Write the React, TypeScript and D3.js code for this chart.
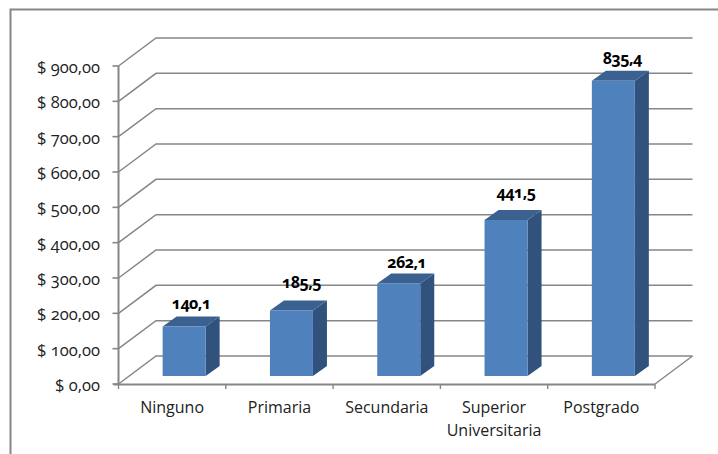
import * as React from "react";
import * as d3 from "d3";

const categories = ["Ninguno", "Primaria", "Secundaria", "Superior Universitaria", "Postgrado"];
const values = [140.1, 185.5, 262.1, 441.5, 835.4];
const valueLabels = ["140,1", "185,5", "262,1", "441,5", "835,4"];
const yTicks = [0, 100, 200, 300, 400, 500, 600, 700, 800, 900];

const width = 718;
const height = 454;
const axisFont = '"Open Sans", "Lato", sans-serif';

// front plane of the 3D box and how far the back wall is shifted
const x0 = 118.5;
const x1 = 655;
const y0 = 384;
const y900 = 66;
const depthX = 37.5;
const depthY = -28;
// bars sit inside the depth of the box
const barShiftX = 12;
const barShiftY = -8;
const barDepthX = 14;
const barDepthY = -10;

// the data labels were placed by hand in the original
const labelNudgeX = [-1, 2, 0, 2, 1];
const labelNudgeY = [-2, -7, 0, -7, -2];

const gridColor = "#868686";

export default function App() {
  const x = d3.scaleBand<string>().domain(categories).range([x0, x1]).paddingInner(0).paddingOuter(0);
  const y = d3.scaleLinear().domain([0, 900]).range([y0, y900]);
  const barWidth = 43;
  const barOffset = (x.bandwidth() - barWidth) / 2;

  const gridLine = d3.line();

  return (
    <svg
      width={width}
      height={height}
      style={{ position: "absolute", left: 0, top: 0, background: "#fff" }}
    >
      {/* chart frame, cut off at the right and bottom of the picture */}
      <path d={`M10.5,${height} V9.5 H${width}`} fill="none" stroke="#868686" strokeWidth={2} />

      {/* back wall and left wall grid */}
      {yTicks.map((t) => (
        <path
          key={t}
          d={
            gridLine([
              [x0, y(t)],
              [x0 + depthX, y(t) + depthY],
              [x1 + depthX, y(t) + depthY],
            ]) ?? ""
          }
          fill="none"
          stroke={gridColor}
          strokeWidth={1.5}
        />
      ))}
      {/* floor */}
      <path
        d={gridLine([[x1, y0], [x1 + depthX, y0 + depthY]]) ?? ""}
        fill="none"
        stroke={gridColor}
        strokeWidth={1.4}
      />

      {/* axes */}
      <path d={`M${x0},${y(900)} V${y0}`} stroke={gridColor} strokeWidth={2} fill="none" />
      <path d={`M${x0 - 5},${y0 + 0.5} H${x1}`} stroke={gridColor} strokeWidth={2} fill="none" />
      {yTicks.map((t) => (
        <line key={t} x1={x0 - 6} x2={x0} y1={y(t)} y2={y(t)} stroke={gridColor} strokeWidth={1.6} />
      ))}
      {[...categories.map((c) => x(c) as number), x1].map((px) => (
        <line key={px} x1={px} x2={px} y1={y0} y2={y0 + 5} stroke={gridColor} strokeWidth={1.4} />
      ))}

      {/* y labels */}
      {yTicks.map((t) => (
        <text
          key={t}
          x={100}
          y={y(t) + 7}
          textAnchor="end"
          fontFamily={axisFont}
          fontSize={16.5}
          fill="#222"
          style={{ fontFeatureSettings: '"onum"' }}
        >
          {"$ " + d3.format(".2f")(t).replace(".", ",")}
        </text>
      ))}

      {/* bars */}
      {categories.map((c, i) => {
        const bx = (x(c) as number) + barOffset + barShiftX;
        const by = y(values[i]) + barShiftY;
        const base = y(0) + barShiftY;
        return (
          <g key={c}>
            <path
              d={`M${bx + barWidth},${by} l${barDepthX},${barDepthY} V${base + barDepthY} l${-barDepthX},${-barDepthY} Z`}
              fill="#31527c"
            />
            <path
              d={`M${bx},${by} l${barDepthX},${barDepthY} h${barWidth} l${-barDepthX},${-barDepthY} Z`}
              fill="#3a6190"
            />
            <rect x={bx} y={by} width={barWidth} height={base - by} fill="#4f81bd" />
            <text
              x={bx + barWidth / 2 + 8 + labelNudgeX[i]}
              y={by - 15 + labelNudgeY[i]}
              textAnchor="middle"
              fontFamily={axisFont}
              fontSize={16}
              fontWeight={700}
              letterSpacing={-0.5}
              fill="#000"
              style={{ fontFeatureSettings: '"onum"' }}
            >
              {valueLabels[i]}
            </text>
          </g>
        );
      })}

      {/* category labels */}
      {categories.map((c) => {
        const cx = (x(c) as number) + x.bandwidth() / 2;
        const words = c === "Superior Universitaria" ? c.split(" ") : [c];
        return (
          <text key={c} x={cx} y={413} textAnchor="middle" fontFamily={axisFont} fontSize={16} fill="#222">
            {words.map((w, i) => (
              <tspan key={w} x={cx} dy={i === 0 ? 0 : 23}>
                {w}
              </tspan>
            ))}
          </text>
        );
      })}
    </svg>
  );
}
